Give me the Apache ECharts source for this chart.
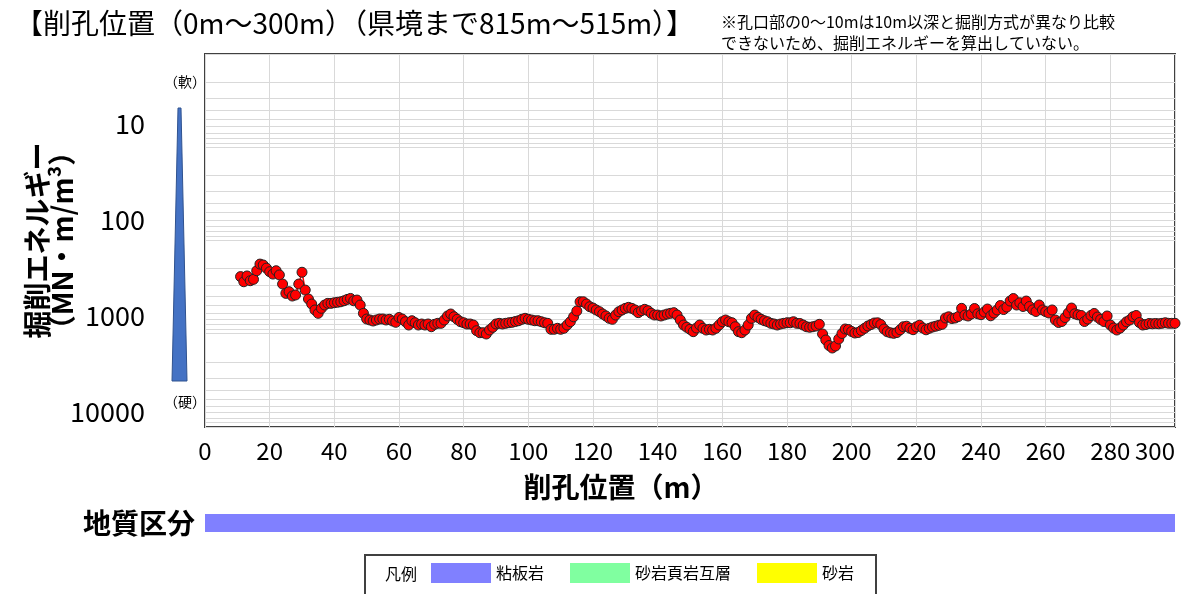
<!DOCTYPE html>
<html>
<head>
<meta charset="utf-8">
<script src="https://cdn.jsdelivr.net/npm/echarts@6/dist/echarts.min.js"></script>
<style>
  html, body { margin: 0; padding: 0; background: #fff; }
  #chart { width: 1190px; height: 594px; }
</style>
</head>
<body>
<div id="chart"></div>
<script>
// 掘削エネルギー (MN・m/m3), 1m pitch from 11m to 300m
var depthStart = 11;
var energy = [
  244, 277, 240, 270, 261, 211, 179, 183, 198, 216,
  229, 211, 234, 293, 369, 354, 394, 384, 293, 219,
  340, 424, 480, 556, 604, 534, 492, 472, 472, 465,
  460, 454, 443, 428, 418, 443, 435, 492, 604, 695,
  712, 730, 712, 695, 695, 712, 700, 730, 754, 670,
  695, 743, 806, 725, 762, 806, 786, 806, 786, 841,
  792, 773, 773, 712, 645, 614, 657, 700, 743, 762,
  786, 786, 806, 927, 975, 975, 1006, 912, 853, 786,
  773, 786, 773, 762, 754, 739, 725, 700, 683, 700,
  712, 725, 725, 743, 762, 773, 896, 896, 874, 896,
  874, 806, 743, 658, 570, 454, 454, 480, 513, 530,
  556, 580, 614, 645, 683, 700, 630, 580, 556, 534,
  521, 534, 556, 594, 566, 547, 566, 604, 630, 630,
  645, 630, 614, 604, 594, 630, 712, 806, 853, 896,
  950, 868, 806, 874, 912, 896, 912, 874, 806, 743,
  712, 743, 762, 841, 950, 975, 912, 806, 683, 630,
  667, 700, 725, 743, 773, 786, 806, 786, 773, 762,
  762, 743, 773, 777, 806, 841, 853, 841, 826, 792,
  1006, 1167, 1337, 1422, 1353, 1138, 994, 889, 900, 946,
  982, 970, 923, 874, 826, 796, 767, 763, 796, 889,
  952, 977, 990, 970, 907, 841, 830, 874, 905, 843,
  810, 868, 907, 874, 847, 830, 812, 792, 678, 658,
  687, 678, 654, 534, 630, 645, 614, 536, 611, 625,
  585, 543, 642, 599, 556, 498, 550, 517, 446, 419,
  492, 465, 510, 446, 510, 554, 577, 492, 556, 579,
  599, 556, 712, 758, 739, 670, 599, 530, 611, 627,
  637, 739, 695, 637, 606, 662, 703, 739, 645, 806,
  868, 912, 870, 806, 745, 712, 657, 637, 758, 806,
  796, 776, 782, 776, 782, 773, 762, 773, 773, 773
];

// 地質区分 (length in m along the hole)
var geoNames = ['粘板岩', '砂岩頁岩互層', '砂岩'];
var geoLengths = [300, 0, 0];
var geoColors = ['#8080ff', '#80ffa0', '#ffff00'];

// log grid minor lines
var minorSteps = [2, 3, 4, 5, 6, 7, 8, 9];
var decades = [1, 10, 100, 1000];

// label axis range (tick labels sit a bit above the real decade lines)
var labelAxisMin = 1.866;
var labelAxisMax = 14322;

var FONT = '"Noto Sans CJK JP", "Noto Sans", sans-serif';

function buildPoints() {
  var pts = [];
  for (var i = 0; i < energy.length; i++) {
    pts.push([depthStart + i, energy[i]]);
  }
  return pts;
}

function buildMinorLines() {
  var lines = [];
  decades.forEach(function (d) {
    minorSteps.forEach(function (s) {
      lines.push({ yAxis: s * d });
    });
  });
  return lines;
}

var myChart = echarts.init(document.getElementById('chart'));

var geoSeries = geoNames.map(function (n, i) {
  return {
    type: 'bar',
    name: n,
    xAxisIndex: 1,
    yAxisIndex: 2,
    stack: 'geo',
    barWidth: '100%',
    data: [geoLengths[i]],
    itemStyle: { color: geoColors[i] }
  };
});

var option = {
  animation: false,
  textStyle: { fontFamily: FONT },
  title: [
    {
      text: '【削孔位置（0m～300m）（県境まで815m～515m）】',
      left: 10, top: 4,
      textStyle: { fontSize: 28, fontWeight: 'normal', color: '#000', fontFamily: FONT }
    },
    {
      text: '※孔口部の0～10mは10m以深と掘削方式が異なり比較\nできないため、掘削エネルギーを算出していない。',
      left: 716, top: 6,
      textStyle: { fontSize: 16, fontWeight: 'normal', lineHeight: 21, color: '#000', fontFamily: FONT }
    }
  ],
  grid: [
    { left: 205, right: 15, top: 54, bottom: 167, show: true, borderColor: '#404040', borderWidth: 2, backgroundColor: 'transparent' },
    { left: 205, right: 15, top: 514, height: 18 }
  ],
  legend: {
    data: geoNames,
    left: 365, top: 555,
    icon: 'rect',
    itemWidth: 60, itemHeight: 20, itemGap: 26,
    padding: [8, 22, 20, 66],
    borderColor: '#404040', borderWidth: 2,
    selectedMode: false,
    textStyle: { fontSize: 16, color: '#000', fontFamily: FONT }
  },
  xAxis: [
    {
      type: 'value', min: 0, max: 300, interval: 20,
      axisLine: { show: false }, axisTick: { show: false },
      axisLabel: { fontSize: 24, color: '#000', margin: 12, alignMaxLabel: 'right' },
      splitLine: { show: true, lineStyle: { color: '#d9d9d9' } },
      name: '削孔位置（m）', nameLocation: 'middle', nameGap: 46, nameMoveOverlap: false,
      nameTextStyle: { fontSize: 28, fontWeight: 'bold', color: '#000', padding: [0, 138, 0, 0] }
    },
    { gridIndex: 1, type: 'value', min: 0, max: 300, show: false }
  ],
  yAxis: [
    {
      type: 'log', logBase: 10, min: 1, max: 10000, inverse: true,
      axisLine: { show: false }, axisTick: { show: false }, axisLabel: { show: false },
      splitLine: { show: true, lineStyle: { color: '#d9d9d9' } }
    },
    {
      type: 'log', logBase: 10, min: labelAxisMin, max: labelAxisMax, inverse: true,
      position: 'left',
      axisLine: { show: false }, axisTick: { show: false }, splitLine: { show: false },
      axisLabel: {
        fontSize: 27, color: '#000', margin: 60,
        showMinLabel: false, showMaxLabel: false,
        formatter: function (v) { return String(Math.round(v)); }
      },
      name: '掘削エネルギー\n（MN・m/m³）',
      nameLocation: 'middle', nameRotate: 90, nameGap: 130, nameMoveOverlap: false,
      nameTextStyle: { fontSize: 28, fontWeight: 'bold', color: '#000', lineHeight: 25 }
    },
    {
      gridIndex: 1, type: 'category', data: ['地質区分'],
      axisLine: { show: false }, axisTick: { show: false },
      axisLabel: { fontSize: 28, fontWeight: 'bold', color: '#000', margin: 10 }
    }
  ],
  graphic: [
    {
      type: 'polygon',
      shape: { points: [[178, 108], [181, 108], [187, 381], [172, 381]] },
      style: { fill: '#4472c4', stroke: '#2f528f', lineWidth: 1 }
    },
    { type: 'text', x: 185, y: 82, style: { text: '（軟）', fill: '#000', align: 'center', verticalAlign: 'middle', font: '14px ' + FONT } },
    { type: 'text', x: 185, y: 402, style: { text: '（硬）', fill: '#000', align: 'center', verticalAlign: 'middle', font: '14px ' + FONT } },
    { type: 'text', x: 385, y: 574, style: { text: '凡例', fill: '#000', verticalAlign: 'middle', font: '16px ' + FONT } }
  ],
  series: [
    {
      type: 'line',
      name: '掘削エネルギー',
      xAxisIndex: 0, yAxisIndex: 0,
      data: buildPoints(),
      symbol: 'circle', symbolSize: 10,
      itemStyle: { color: '#ff0000', borderColor: '#222', borderWidth: 1 },
      lineStyle: { color: '#ff0000', width: 1.5 },
      z: 3,
      markLine: {
        silent: true, symbol: 'none', z: 1,
        label: { show: false },
        lineStyle: { color: '#d9d9d9', type: 'solid', width: 1 },
        data: buildMinorLines()
      }
    }
  ].concat(geoSeries)
};

myChart.setOption(option);
</script>
</body>
</html>
